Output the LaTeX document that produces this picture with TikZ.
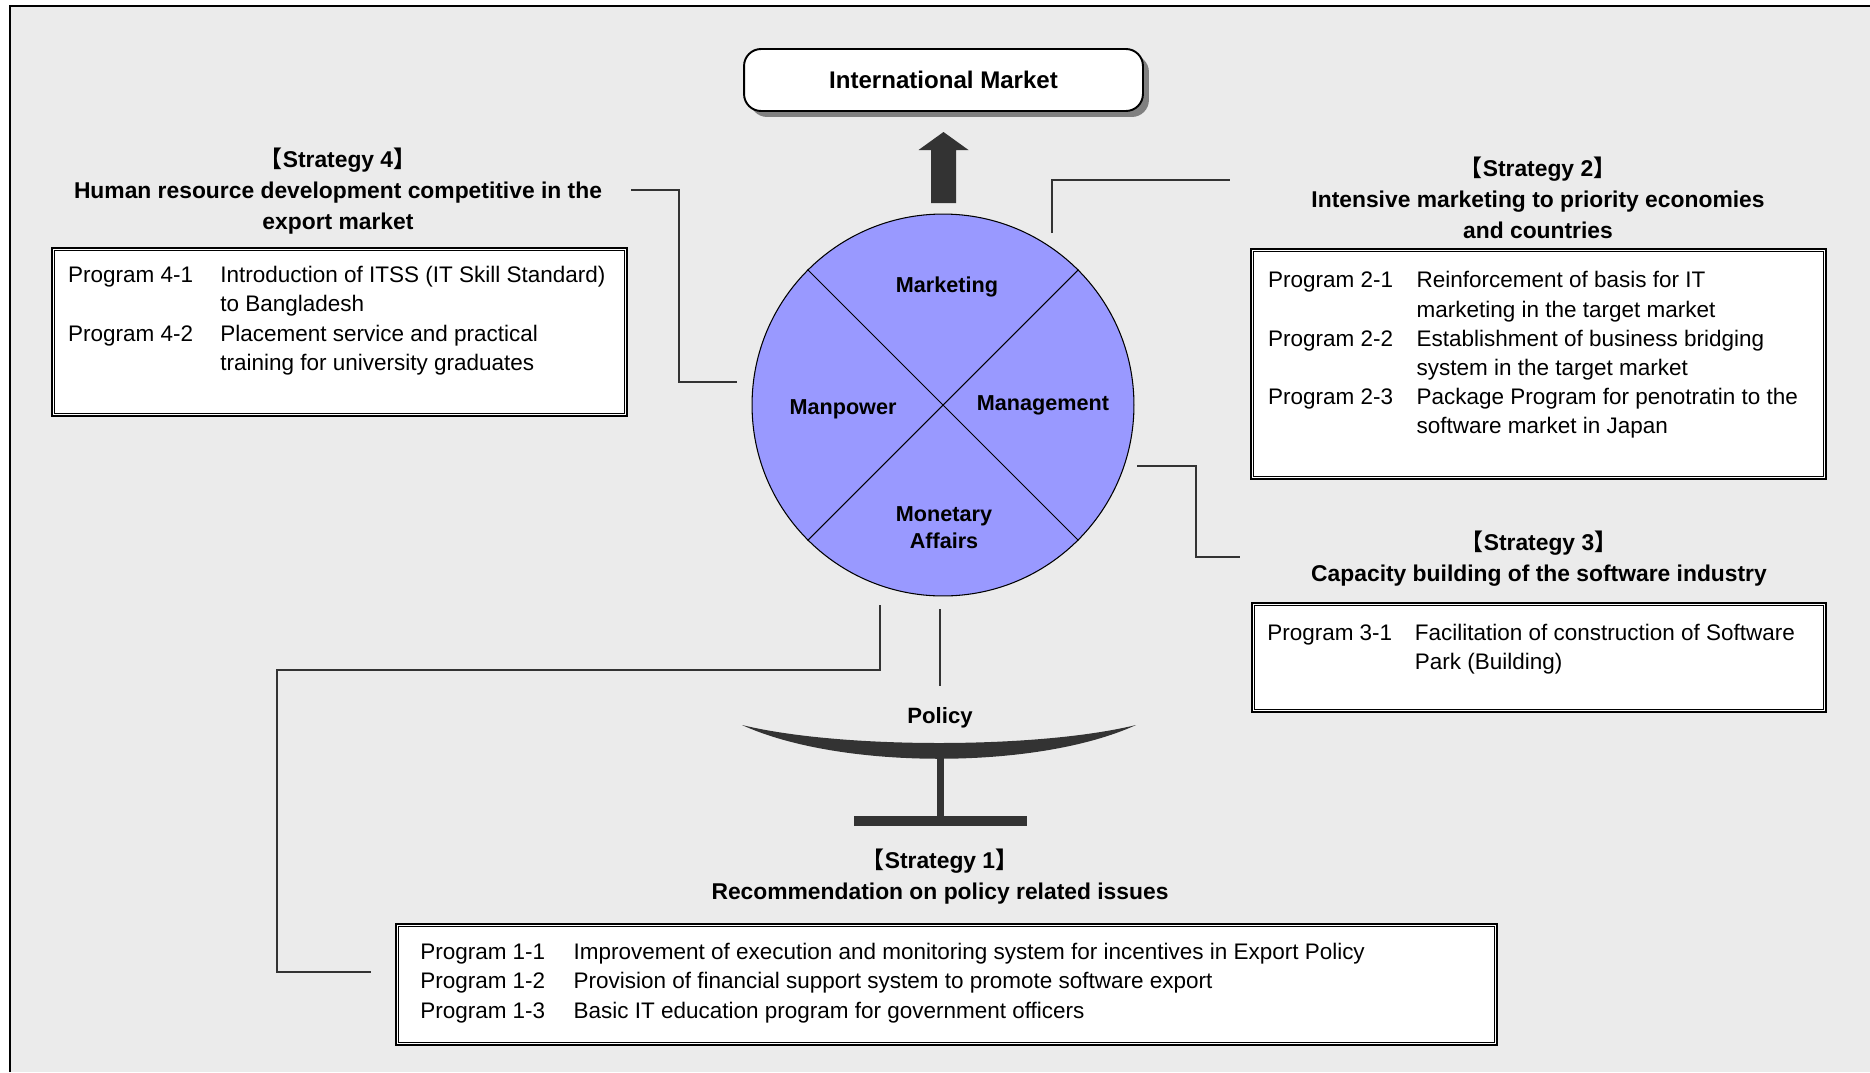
\documentclass[tikz,border=0pt]{standalone}
\usepackage{fontspec}
\setmainfont{Liberation Sans}
\newfontfamily\cjk{Noto Sans CJK JP}
\usetikzlibrary{shadows, calc}

\definecolor{inkgray}{RGB}{51,51,51}
\definecolor{ringblue}{RGB}{153,153,255}
\definecolor{paper}{RGB}{235,235,235}
\definecolor{shadowgray}{RGB}{128,128,128}

\tikzset{
  link/.style={draw=inkgray, line width=1.5pt},
  head/.style={font=\fontsize{13}{17.6}\selectfont\bfseries, align=center, inner sep=0pt},
  progbox/.style={draw=black, line width=1.3pt, fill=white, inner sep=0pt},
  proglist/.style={font=\fontsize{12.8}{16.6}\selectfont, anchor=north west, inner sep=0pt},
  sector/.style={font=\fontsize{12.3}{15.3}\selectfont\bfseries, align=center, inner sep=0pt},
  ring/.style={circle, draw=black, line width=0.6pt, fill=ringblue, minimum size=7.64cm, inner sep=0pt},
  goal/.style={draw=black, line width=1.1pt, fill=white, rounded corners=0.34cm,
    minimum width=7.98cm, minimum height=1.24cm, font=\fontsize{13.7}{16}\selectfont\bfseries,
    drop shadow={shadow xshift=3.4pt, shadow yshift=-3.4pt, fill=shadowgray, opacity=1}},
}

\begin{document}
\begin{tikzpicture}[x=0.02cm, y=-0.02cm]
  \useasboundingbox (0,0) rectangle (1870,1072);
  % Sheet
  \fill[paper] (10,6) rectangle (1870,1072);
  \draw[line width=1.1pt] (10,1072) -- (10,6) -- (1870,6);

  % Goal and arrow
  \node[goal] (market) at (943.5,80) {International Market};
  \coordinate (uptip) at (943.5,132);
  \fill[inkgray] (uptip) -- ++(25,18) -- ++(-12.5,0) -- ++(0,53) -- ++(-25,0) -- ++(0,-53) -- ++(-12.5,0) -- cycle;

  % Four M circle
  \node[ring] (core) at (943,405) {};
  \draw[line width=0.6pt] (core.135) -- (core.-45);
  \draw[line width=0.6pt] (core.45) -- (core.-135);
  \node[sector] (mkt) at (947,287) {Marketing};
  \node[sector] (man) at (843,409) {Manpower};
  \node[sector] (mgt) at (1043,405) {Management};
  \node[sector] (mon) at (944,528) {Monetary\\Affairs};

  % Strategy 4
  \node[head] (s4) at (338,191) {{\cjk 【}Strategy 4{\cjk 】}\\Human resource development competitive in the\\export market};
  \node[progbox, minimum width=11.5cm, minimum height=3.36cm] (b4) at (339.5,332) {};
  \node[proglist] (t4) at ([shift={(9.6pt,-8.6pt)}]b4.north west) {\begin{tabular}{@{}p{86.7pt}@{}l@{}}
    Program 4-1 & Introduction of ITSS (IT Skill Standard)\\
    & to Bangladesh\\
    Program 4-2 & Placement service and practical\\
    & training for university graduates
  \end{tabular}};

  % Strategy 2
  \node[head] (s2) at (1538,198) {{\cjk 【}Strategy 2{\cjk 】}\\Intensive marketing to priority economies\\and countries};
  \node[progbox, minimum width=11.5cm, minimum height=4.6cm] (b2) at (1538.5,364) {};
  \node[proglist] (t2) at ([shift={(10.2pt,-11pt)}]b2.north west) {\begin{tabular}{@{}p{84.5pt}@{}l@{}}
    Program 2-1 & Reinforcement of basis for IT\\
    & marketing in the target market\\
    Program 2-2 & Establishment of business bridging\\
    & system in the target market\\
    Program 2-3 & Package Program for penotratin to the\\
    & software market in Japan
  \end{tabular}};

  % Strategy 3
  \node[head] (s3) at (1539,558.5) {{\cjk 【}Strategy 3{\cjk 】}\\Capacity building of the software industry};
  \node[progbox, minimum width=11.48cm, minimum height=2.18cm] (b3) at (1539,657.5) {};
  \node[proglist] (t3) at ([shift={(9.1pt,-9.9pt)}]b3.north west) {\begin{tabular}{@{}p{84pt}@{}l@{}}
    Program 3-1 & Facilitation of construction of Software\\
    & Park (Building)
  \end{tabular}};

  % Strategy 1
  \node[head] (s1) at (940,876.5) {{\cjk 【}Strategy 1{\cjk 】}\\Recommendation on policy related issues};
  \node[progbox, minimum width=22.02cm, minimum height=2.42cm] (b1) at (946.5,984.5) {};
  \node[proglist] (t1) at ([shift={(14.2pt,-9.2pt)}]b1.north west) {\begin{tabular}{@{}p{87.3pt}@{}l@{}}
    Program 1-1 & Improvement of execution and monitoring system for incentives in Export Policy\\
    Program 1-2 & Provision of financial support system to promote software export\\
    Program 1-3 & Basic IT education program for government officers
  \end{tabular}};

  % inner lines of the framed boxes
  \foreach \b in {b1,b2,b3,b4}
    \draw[line width=0.6pt] ([shift={(2.2pt,2.2pt)}]\b.south west) rectangle ([shift={(-2.2pt,-2.2pt)}]\b.north east);

  % Connectors
  \coordinate (k4a) at (631,190);
  \coordinate (k4b) at (737,382);
  \draw[link] (k4a) -- ++(48,0) |- (k4b);
  \coordinate (k2a) at (1052,233);
  \coordinate (k2b) at (1230,180);
  \draw[link] (k2a) |- (k2b);
  \coordinate (k3a) at (1137,466);
  \coordinate (k3b) at (1240,557);
  \draw[link] (k3a) -- ++(59,0) |- (k3b);
  \coordinate (k1a) at (880,605);
  \coordinate (k1b) at (371,972);
  \draw[link] (k1a) -- ++(0,65) -- ++(-603,0) |- (k1b);
  \coordinate (k0a) at (940,609);
  \coordinate (k0b) at (940,686);
  \draw[link] (k0a) -- (k0b);

  % Policy balance
  \node[font=\fontsize{12.6}{15}\selectfont\bfseries, inner sep=0pt] (policy) at (940,718) {Policy};
  \fill[inkgray] (742,725) .. controls (840,749) and (1038,749) .. (1136,725) .. controls (1038,770) and (840,770) .. (742,725) -- cycle;
  \fill[inkgray] (937,757) rectangle (943.5,817);
  \fill[inkgray] (854,816) rectangle (1027,826);
\end{tikzpicture}
\end{document}
